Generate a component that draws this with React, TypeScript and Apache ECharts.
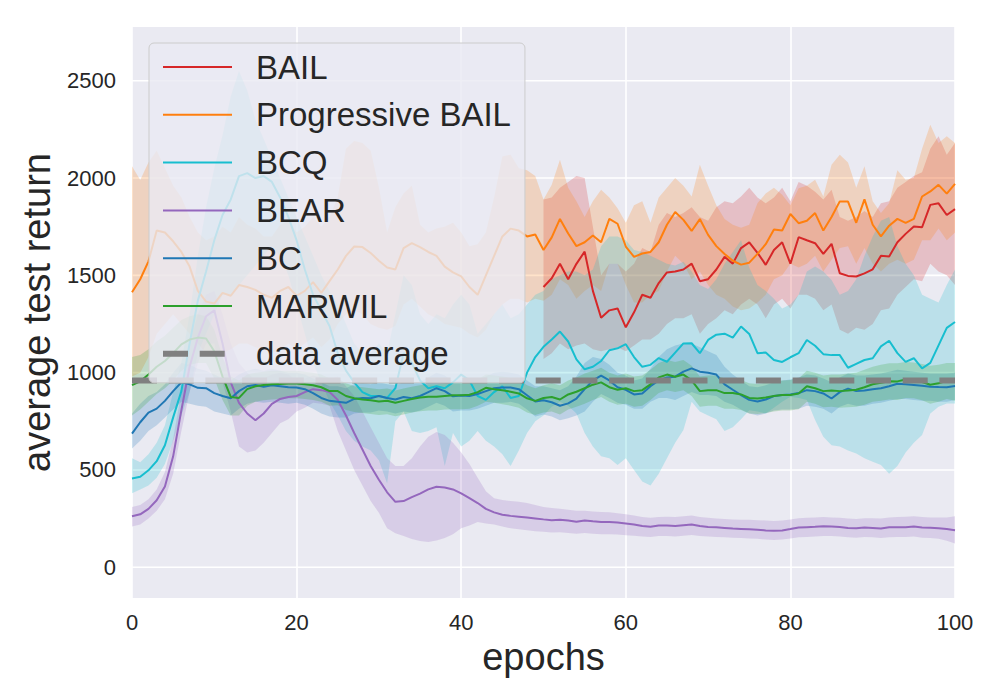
import React, { useEffect, useRef } from "react";
import * as echarts from "echarts";

// ---------- data ----------
const X_MIN = 0;
const X_MAX = 100;
const X_TICK_STEP = 20;
const Y_MIN = -158;
const Y_MAX = 2776;
const Y_TICKS = [0, 500, 1000, 1500, 2000, 2500];
const DATA_AVERAGE = 960;
const BAIL_START = 50; // BAIL curve begins at epoch 50

const BAIL_MEAN = [
  1440, 1485, 1559, 1480, 1559, 1622, 1420, 1282, 1320, 1330,
  1233, 1310, 1400, 1385, 1460, 1515, 1520, 1530, 1560, 1470,
  1480, 1530, 1595, 1560, 1640, 1669, 1616, 1554, 1630, 1670,
  1560, 1696, 1680, 1665, 1610, 1662, 1511, 1497, 1494, 1510,
  1531, 1600, 1597, 1670, 1713, 1751, 1747, 1862, 1870, 1810,
  1840,
];
const BAIL_HI = [
  1890, 1900, 1950, 1980, 2010, 2000, 1750, 1500, 1560, 1560,
  1520, 1560, 1640, 1620, 1760, 1820, 1800, 1820, 1850, 1800,
  1780, 1850, 1880, 1870, 1905, 1950, 1900, 1870, 1900, 1950,
  1880, 1980, 1960, 1930, 1890, 1940, 1800, 1780, 1800, 1830,
  1800, 1870, 1880, 1950, 1980, 2010, 2030, 2150, 2214, 2120,
  2180,
];
const BAIL_LO = [
  1070, 1100, 1150, 1120, 1140, 1150, 1120, 1110, 1120, 1130,
  1110, 1140, 1170, 1170, 1200, 1250, 1280, 1280, 1300, 1200,
  1250, 1280, 1320, 1300, 1350, 1380, 1350, 1280, 1350, 1380,
  1330, 1400, 1400, 1380, 1320, 1350, 1220, 1200, 1230, 1220,
  1250, 1320, 1330, 1400, 1440, 1480, 1470, 1560, 1520, 1500,
  1450,
];

const PBAIL_MEAN = [
  1413, 1480, 1572, 1730, 1720, 1675, 1620, 1545, 1420, 1365,
  1355, 1410, 1395, 1450, 1440, 1425, 1400, 1385, 1420, 1440,
  1395, 1420, 1465, 1410, 1470, 1530, 1600, 1648, 1645, 1615,
  1575, 1540, 1530, 1640, 1665, 1645, 1620, 1600, 1545, 1515,
  1495, 1440, 1400, 1500, 1600, 1700, 1740, 1730, 1700, 1710,
  1630, 1695, 1790, 1715, 1650, 1670, 1705, 1670, 1790, 1765,
  1648, 1595, 1612, 1620, 1670, 1760, 1825, 1785, 1728, 1789,
  1708, 1650, 1610, 1575, 1555, 1565, 1610, 1660, 1735, 1730,
  1815, 1768, 1780, 1820, 1730, 1800, 1880, 1879, 1770, 1890,
  1760, 1700, 1755, 1790, 1770, 1790, 1905, 1931, 1965, 1920,
  1970,
];
const PBAIL_HI = [
  2060, 1990, 2080, 2140, 2050, 1960, 1900, 1800, 1720, 1680,
  1700, 1750, 1720, 1800, 1760, 1740, 1700, 1700, 1760, 1780,
  1720, 1750, 1800, 1750, 1800, 1900, 2150, 2190, 2180, 2140,
  1950, 1720, 1850, 1920, 1960, 1760, 1720, 1740, 1750, 1770,
  1720, 1650, 1660, 1720, 1900, 2110, 2120, 2050, 2040, 2010,
  1890, 1965, 2094, 1950, 1880, 1800, 1880, 1940, 1900, 1845,
  1770, 1860, 1880, 1770, 1900, 1950, 2000, 1960, 1905, 2068,
  1960, 1860, 1790, 1760, 1745, 1760, 1870, 1920, 1950, 1914,
  1860, 1948, 1960, 1991, 1905, 2068, 2120, 2080, 1950, 2060,
  1880, 1820, 1870, 2040, 1991, 2000, 2150, 2274, 2180, 2214,
  2180,
];
const PBAIL_LO = [
  980, 1000, 1080, 1200, 1250, 1300, 1250, 1200, 1150, 1100,
  1080, 1100, 1120, 1150, 1150, 1130, 1120, 1100, 1120, 1150,
  1120, 1150, 1180, 1130, 1170, 1250, 1300, 1320, 1300, 1250,
  1230, 1220, 1240, 1350, 1380, 1340, 1300, 1280, 1250, 1240,
  1230, 1200, 1180, 1220, 1300, 1350, 1380, 1380, 1360, 1380,
  1370, 1400, 1480, 1450, 1380, 1420, 1450, 1420, 1560, 1560,
  1450, 1360, 1360, 1400, 1420, 1520, 1600, 1560, 1480, 1520,
  1450, 1400, 1380, 1340, 1320, 1330, 1360, 1400, 1480, 1500,
  1560, 1540, 1560, 1600, 1520, 1580, 1640, 1650, 1560, 1640,
  1560, 1520, 1560, 1580, 1560, 1580, 1680, 1680, 1740, 1680,
  1720,
];

const BCQ_MEAN = [
  456, 465, 498, 545, 627, 770, 905, 1150, 1370, 1520,
  1680, 1810, 1890, 2010, 2025, 2000, 2010, 1980, 1900, 1800,
  1680, 1530, 1400, 1320, 1240, 1100, 1010, 950, 900, 880,
  880, 870, 920, 1100, 1050, 960, 920, 930, 920, 950,
  990, 960, 880, 860, 900, 930, 870, 880, 1000, 1080,
  1133, 1170, 1211, 1160, 1068, 1017, 1030, 1060, 1115, 1125,
  1146, 1080, 1030, 1040, 1075, 1056, 1103, 1150, 1151, 1100,
  1168, 1195, 1200, 1180, 1237, 1199, 1100, 1103, 1065, 1055,
  1079, 1100, 1168, 1138, 1095, 1090, 1090, 1025, 1045, 1065,
  1074, 1135, 1164, 1100, 1055, 1074, 1022, 1050, 1140, 1230,
  1260,
];
const BCQ_HI = [
  560, 540, 580, 640, 730, 900, 1050, 1300, 1600, 1850,
  2050, 2220, 2420, 2550, 2450, 2300, 2200, 2100, 2000, 1900,
  1800, 1700, 1600, 1500, 1420, 1350, 1250, 1150, 1100, 1100,
  1150, 1100, 1300, 1500, 1450, 1300, 1250, 1300, 1280, 1350,
  1400, 1350, 1200, 1250, 1300, 1350, 1280, 1300, 1350, 1400,
  1420, 1480, 1500, 1520, 1520, 1500, 1530, 1650, 1700, 1700,
  1680, 1630, 1620, 1600, 1580, 1560, 1550, 1570, 1520, 1450,
  1430, 1480, 1560, 1620, 1680, 1540, 1450, 1420, 1380, 1330,
  1350, 1400, 1520, 1545, 1520, 1476, 1400, 1420, 1480, 1600,
  1700, 1780, 1800, 1650, 1560, 1500, 1400, 1380, 1360, 1450,
  1530,
];
const BCQ_LO = [
  380, 400, 420, 460, 530, 650, 780, 900, 1100, 1200,
  1300, 1400, 1400, 1450, 1500, 1550, 1600, 1650, 1600, 1500,
  1350, 1200, 1050, 950, 850, 780, 700, 650, 620, 600,
  550, 430, 750, 800, 700, 690, 700, 720, 520, 690,
  620, 650, 700, 650, 620, 580, 520, 600, 690, 750,
  780, 825, 850, 830, 790, 690, 620, 570, 560, 525,
  560, 500, 440, 420, 480, 560, 640, 705, 850, 800,
  780, 760, 700, 720, 760, 807, 800, 790, 820, 850,
  876, 870, 860, 756, 670, 627, 620, 600, 585, 560,
  542, 525, 480, 520, 590, 640, 680, 790, 825, 842,
  842,
];

const BEAR_MEAN = [
  262, 272, 300, 344, 415, 570, 807, 1030, 1180, 1290,
  1320, 1150, 950, 845, 790, 755, 790, 840, 865, 875,
  880, 900, 915, 910, 900, 860, 780, 690, 605, 520,
  450, 385, 336, 340, 360, 378, 400, 414, 410, 400,
  380, 355, 330, 300, 282, 270, 264, 260, 256, 251,
  246, 242, 244, 240, 234, 240, 236, 233, 233, 230,
  225, 220, 212, 208, 214, 214, 212, 216, 220, 212,
  207, 205, 202, 199, 197, 195, 193, 189, 187, 189,
  196, 204, 206, 208, 211, 209, 207, 202, 200, 204,
  202, 199, 205, 206, 206, 209, 204, 203, 201, 196,
  190,
];
const BEAR_HI = [
  310, 320, 350, 400, 490, 660, 900, 1150, 1300, 1400,
  1420, 1300, 1150, 1050, 1000, 960, 970, 990, 1000, 990,
  960, 970, 985, 975, 965, 980, 930, 880, 800, 720,
  640, 560, 520, 520, 560, 620, 670, 695, 680, 640,
  590, 530, 460, 390, 355, 345, 340, 336, 330, 320,
  310, 305, 300, 295, 290, 290, 286, 284, 282, 278,
  272, 266, 258, 254, 258, 260, 258, 262, 266, 258,
  254, 250, 248, 246, 244, 244, 242, 240, 238, 240,
  246, 252, 254, 256, 258, 256, 254, 250, 248, 252,
  252, 250, 256, 258, 260, 262, 258, 256, 256, 256,
  262,
];
const BEAR_LO = [
  210, 220, 250, 290, 350, 480, 700, 900, 1050, 1150,
  1150, 950, 800, 620, 590, 600, 640, 690, 740, 760,
  800, 820, 845, 840, 830, 700, 600, 500, 420, 340,
  280, 200, 175, 160, 145, 135, 130, 138, 150, 170,
  200, 215, 232, 225, 220, 210, 200, 195, 190, 185,
  182, 178, 180, 176, 172, 176, 172, 170, 170, 168,
  165, 162, 158, 156, 160, 160, 158, 162, 166, 160,
  158, 156, 154, 152, 150, 148, 146, 142, 140, 142,
  148, 154, 156, 158, 160, 160, 158, 154, 152, 156,
  154, 150, 154, 155, 155, 158, 152, 150, 146, 136,
  122,
];

const BC_MEAN = [
  687, 745, 795, 815, 855, 905, 950, 940, 922, 920,
  895, 880, 868, 905, 930, 936, 927, 935, 930, 925,
  924, 915, 895, 870, 855, 850, 845, 865, 870, 868,
  880, 870, 862, 875, 868, 880, 900, 920, 905, 878,
  882, 880, 890, 905, 920, 924, 924, 915, 884, 852,
  858, 848, 830, 842, 867, 915, 960, 985, 960, 925,
  912, 888, 893, 930, 960, 975, 979, 1005, 1022, 1005,
  999, 990, 940, 912, 885, 860, 852, 862, 880, 885,
  888, 895, 910, 905, 893, 867, 900, 918, 905, 908,
  915, 920, 930, 943, 940, 936, 932, 928, 926, 925,
  931,
];
const BC_HI = [
  790, 840, 880, 900, 940, 1000, 1050, 1040, 1020, 1010,
  990, 970, 960, 990, 1010, 1020, 1010, 1020, 1010, 1000,
  1000, 990, 970, 950, 930, 930, 920, 940, 945, 940,
  950, 940, 935, 950, 945, 955, 975, 1000, 985, 955,
  960, 955, 965, 980, 1000, 1005, 1000, 990, 960, 930,
  930, 920, 910, 930, 980, 1050, 1080, 1070, 1040, 1000,
  985, 960, 970, 1020, 1080, 1120, 1140, 1150, 1150, 1130,
  1110, 1090, 1030, 990, 960, 930, 925, 935, 950, 960,
  965, 975, 990, 985, 970, 950, 975, 995, 985, 985,
  990, 995, 1005, 1015, 1010, 1005, 1000, 995, 995, 995,
  1000,
];
const BC_LO = [
  610, 650, 700, 730, 770, 810, 850, 840, 830, 825,
  800, 790, 780, 815, 840, 850, 845, 850, 845, 840,
  845, 835, 815, 790, 775, 770, 770, 790, 795, 795,
  805, 800, 790, 800, 795, 805, 825, 845, 830, 800,
  805, 805, 815, 830, 845, 845, 850, 840, 810, 775,
  785, 775, 755, 765, 780, 800, 850, 890, 870, 845,
  835, 815, 815, 850, 870, 870, 860, 880, 900, 885,
  885, 880, 850, 835, 810, 790, 780, 790, 805, 810,
  810, 815, 830, 825, 815, 790, 825, 840, 830, 830,
  840, 845, 855, 865, 865, 860, 855, 855, 850, 850,
  860,
];

const MARWIL_MEAN = [
  936, 955, 990, 1030, 1060, 1100, 1145, 1170, 1180, 1175,
  1110, 980, 875, 870, 915, 930, 936, 940, 942, 944,
  944, 940, 935, 925, 905, 905, 880, 868, 862, 858,
  852, 856, 845, 855, 865, 872, 876, 876, 880, 884,
  884, 886, 900, 922, 915, 910, 902, 893, 868, 855,
  870, 875, 862, 888, 902, 920, 938, 950, 925, 912,
  920, 905, 910, 940, 975, 990, 979, 990, 960, 905,
  910, 910, 895, 895, 888, 870, 867, 872, 880, 885,
  885, 893, 930, 920, 905, 908, 905, 908, 912, 925,
  940, 948, 956, 955, 965, 962, 952, 938, 945, 958,
  953,
];
const MARWIL_HI = [
  1080, 1090, 1120, 1160, 1190, 1230, 1270, 1290, 1300, 1290,
  1220, 1080, 980, 960, 990, 1000, 1005, 1010, 1010, 1010,
  1010, 1005, 1000, 990, 970, 970, 945, 930, 925, 920,
  915, 918, 908, 918, 928, 935, 940, 940, 945, 950,
  950, 950, 965, 990, 985, 980, 972, 962, 935, 920,
  935, 945, 935, 960, 975, 995, 1010, 1025, 1000, 985,
  995, 980, 985, 1015, 1050, 1065, 1055, 1065, 1035, 980,
  985, 985, 970, 970, 962, 945, 942, 948, 955, 960,
  962, 970, 1010, 1000, 985, 990, 990, 995, 1000, 1015,
  1030, 1040, 1048, 1048, 1055, 1052, 1045, 1035, 1040, 1050,
  1050,
];
const MARWIL_LO = [
  780, 810, 850, 890, 920, 960, 1010, 1040, 1050, 1050,
  970, 860, 780, 780, 830, 850, 858, 862, 865, 868,
  868, 865, 860, 850, 830, 832, 808, 798, 792, 788,
  782, 786, 776, 785, 795, 802, 806, 806, 810, 812,
  812, 814, 830, 850, 845, 838, 830, 820, 795, 782,
  795, 800, 785, 810, 825, 840, 860, 875, 850, 835,
  840, 825, 830, 860, 895, 910, 900, 910, 880, 825,
  830, 830, 815, 815, 808, 790, 788, 792, 800, 805,
  805, 812, 850, 840, 822, 825, 820, 822, 825, 835,
  850, 855, 862, 860, 870, 868, 858, 840, 850, 865,
  855,
];

const ALGOS = [
  { name: "BAIL", color: "#d62728", start: BAIL_START, mean: BAIL_MEAN, lo: BAIL_LO, hi: BAIL_HI },
  { name: "Progressive BAIL", color: "#ff7f0e", start: 0, mean: PBAIL_MEAN, lo: PBAIL_LO, hi: PBAIL_HI },
  { name: "BCQ", color: "#17becf", start: 0, mean: BCQ_MEAN, lo: BCQ_LO, hi: BCQ_HI },
  { name: "BEAR", color: "#9467bd", start: 0, mean: BEAR_MEAN, lo: BEAR_LO, hi: BEAR_HI },
  { name: "BC", color: "#1f77b4", start: 0, mean: BC_MEAN, lo: BC_LO, hi: BC_HI },
  { name: "MARWIL", color: "#2ca02c", start: 0, mean: MARWIL_MEAN, lo: MARWIL_LO, hi: MARWIL_HI },
];
const AVG_NAME = "data average";

const FONT = "'Liberation Sans', Arial, Helvetica, sans-serif";
const TEXT = "#262626";

function hexA(hex: string, a: number) {
  const n = parseInt(hex.slice(1), 16);
  return `rgba(${(n >> 16) & 255},${(n >> 8) & 255},${n & 255},${a})`;
}

export default function App() {
  const ref = useRef<HTMLDivElement>(null);

  useEffect(() => {
    if (!ref.current) return;
    const chart = echarts.init(ref.current, null, { renderer: "svg" });

    const series: any[] = [];

    // horizontal white grid lines (drawn through the value scale)
    Y_TICKS.forEach((v) => {
      series.push({
        type: "line",
        name: `grid-${v}`,
        data: [[X_MIN, v], [X_MAX, v]],
        symbol: "none",
        silent: true,
        z: 1,
        lineStyle: { color: "#ffffff", width: 1.6 },
        emphasis: { disabled: true },
      });
    });

    // confidence bands: one polygon per algorithm, placed through the axis scales
    ALGOS.forEach((a) => {
      const bandData = a.lo.map((v, i) => [a.start + i, v, a.hi[i]]);
      series.push({
        type: "custom",
        name: `${a.name} band`,
        coordinateSystem: "cartesian2d",
        silent: true,
        z: 2,
        data: bandData,
        encode: { x: 0, y: [1, 2] },
        renderItem: (params: any, api: any) => {
          if (params.dataIndex !== 0) return null;
          const pts: number[][] = [];
          for (let i = 0; i < bandData.length; i++) pts.push(api.coord([bandData[i][0], bandData[i][2]]));
          for (let i = bandData.length - 1; i >= 0; i--) pts.push(api.coord([bandData[i][0], bandData[i][1]]));
          return {
            type: "polygon",
            shape: { points: pts },
            style: { fill: hexA(a.color, 0.22), stroke: "none" },
          };
        },
      });
    });

    // mean lines
    ALGOS.forEach((a) => {
      series.push({
        type: "line",
        name: a.name,
        data: a.mean.map((v, i) => [a.start + i, v]),
        symbol: "none",
        z: 3,
        itemStyle: { color: a.color },
        lineStyle: { color: a.color, width: 2 },
        emphasis: { disabled: true },
      });
    });

    series.push({
      type: "line",
      name: AVG_NAME,
      data: [[X_MIN, DATA_AVERAGE], [X_MAX, DATA_AVERAGE]],
      symbol: "none",
      z: 4,
      itemStyle: { color: "#808080" },
      lineStyle: { color: "#808080", width: 6, type: [25, 11.7], cap: "butt" },
      emphasis: { disabled: true },
    });

    const option: any = {
      animation: false,
      backgroundColor: "#ffffff",
      textStyle: { fontFamily: FONT },
      grid: {
        left: 132,
        right: 45,
        top: 27,
        bottom: 102,
        show: true,
        backgroundColor: "#EAEAF2",
        borderWidth: 0,
        containLabel: false,
        outerBoundsMode: "none",
      },
      xAxis: {
        type: "value",
        min: X_MIN,
        max: X_MAX,
        interval: X_TICK_STEP,
        axisLine: { show: false },
        axisTick: { show: false },
        axisLabel: { fontSize: 22, color: TEXT, margin: 13, fontFamily: FONT, formatter: (v: number) => String(v) },
        splitLine: { show: true, lineStyle: { color: "#ffffff", width: 1.6 } },
        name: "epochs",
        nameLocation: "middle",
        nameGap: 38,
        nameTextStyle: { fontSize: 38, color: TEXT, fontFamily: FONT },
      },
      yAxis: {
        type: "value",
        min: Y_MIN,
        max: Y_MAX,
        axisLine: { show: false },
        axisTick: { show: false },
        splitLine: { show: false },
        axisLabel: {
          customValues: Y_TICKS,
          fontSize: 22,
          color: TEXT,
          margin: 16,
          fontFamily: FONT,
          formatter: (v: number) => String(v),
        },
        name: "average test return",
        nameLocation: "middle",
        nameGap: 73,
        nameTextStyle: { fontSize: 38, color: TEXT, fontFamily: FONT },
      },
      legend: {
        data: [...ALGOS.map((a) => a.name), AVG_NAME],
        orient: "vertical",
        left: 149,
        top: 43,
        itemWidth: 69,
        itemHeight: 36,
        itemGap: 11.8,
        padding: [6, 14, 11, 11],
        backgroundColor: "rgba(234,234,242,0.8)",
        borderColor: "#cccccc",
        borderWidth: 1,
        borderRadius: 5,
        selectedMode: false,
        z: 10,
        itemStyle: { opacity: 0 },
        lineStyle: { width: "inherit" },
        textStyle: { fontSize: 33, color: TEXT, fontFamily: FONT, lineHeight: 36, padding: [0, 0, 0, 19] },
      },
      series,
    };

    chart.setOption(option);
    return () => chart.dispose();
  }, []);

  return (
    <div
      ref={ref}
      style={{ position: "absolute", left: 0, top: 0, width: 1000, height: 700, background: "#fff" }}
    />
  );
}
